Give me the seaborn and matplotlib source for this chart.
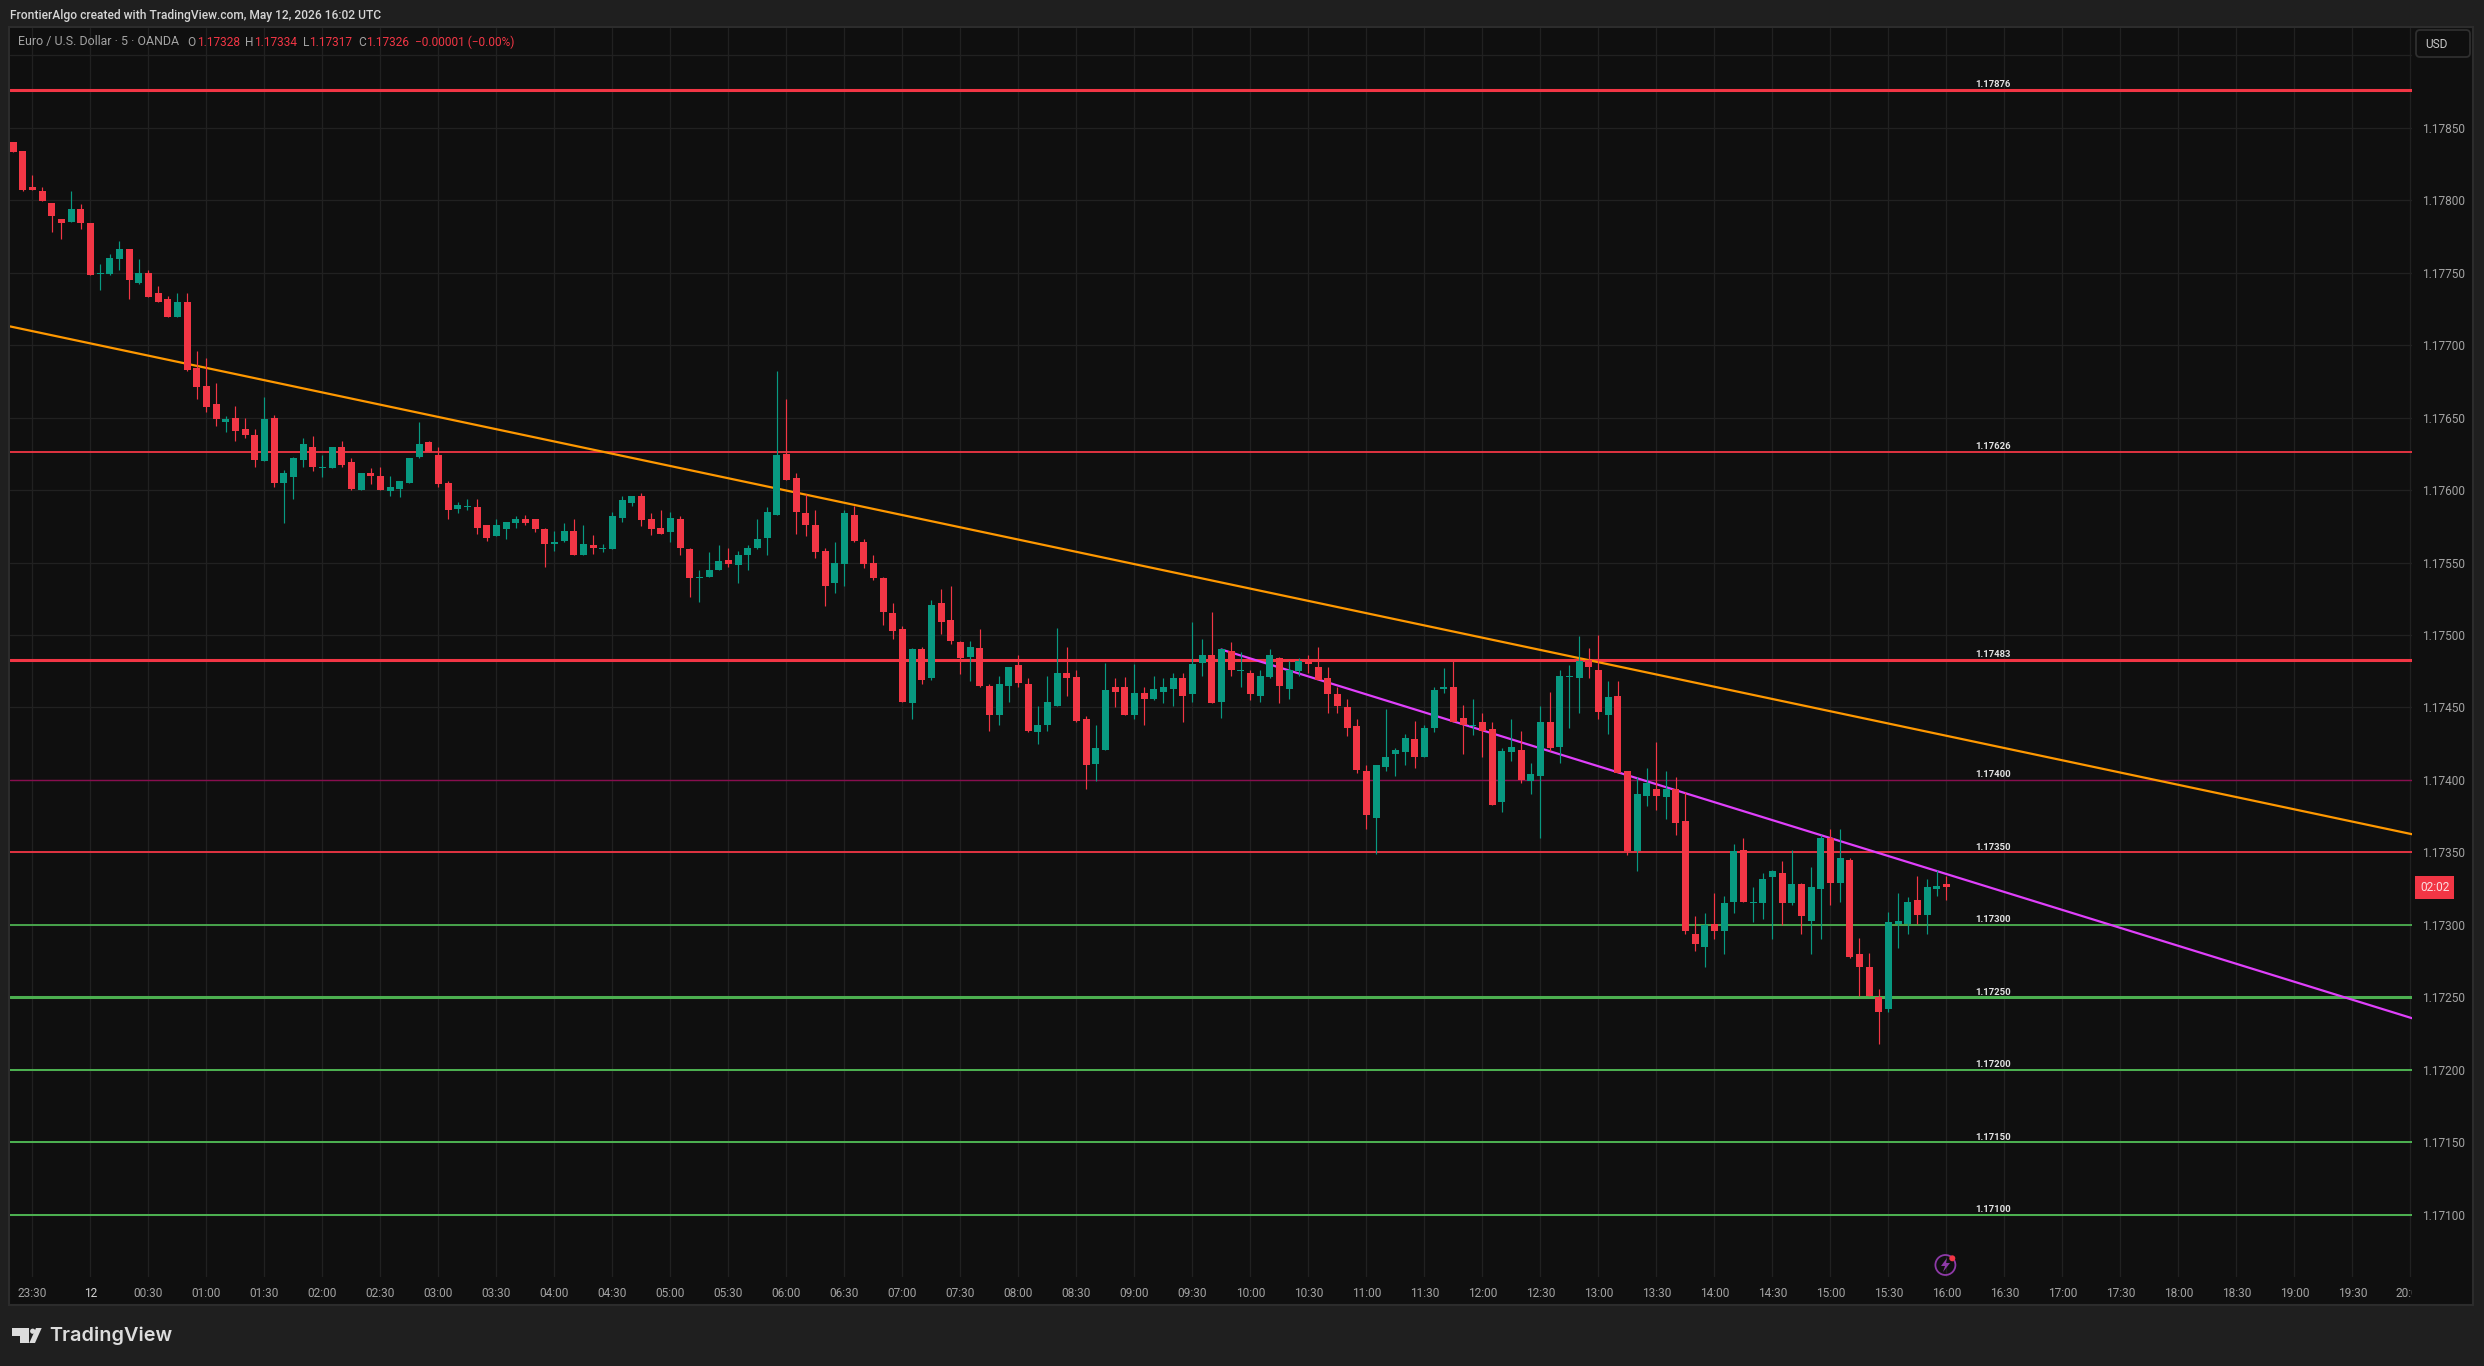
import numpy as np
import pandas as pd
import matplotlib
matplotlib.use("Agg")
import matplotlib.pyplot as plt
import seaborn as sns
from matplotlib.patches import Circle, FancyBboxPatch, Rectangle
from matplotlib.transforms import Bbox, TransformedBbox, blended_transform_factory

# EUR/USD 5 min candles, prices in 1e-5 units
opens = [
    117840, 117834, 117809, 117806, 117798, 117787, 117785, 117794, 117784, 117749, 117749, 117759, 117766, 117743, 117750, 117736, 117732, 117719, 117730, 117684,
    117672, 117659, 117647, 117650, 117642, 117638, 117620, 117650, 117605, 117609, 117621, 117630, 117615, 117615, 117630, 117619, 117600, 117612, 117610, 117599,
    117601, 117605, 117623, 117633, 117624, 117605, 117587, 117588, 117588, 117576, 117568, 117573, 117577, 117580, 117580, 117573, 117563, 117565, 117572, 117555,
    117562, 117559, 117559, 117581, 117591, 117596, 117580, 117574, 117571, 117580, 117559, 117539, 117540, 117545, 117552, 117548, 117555, 117560, 117567, 117583,
    117625, 117608, 117584, 117576, 117558, 117536, 117549, 117583, 117564, 117550, 117539, 117515, 117504, 117453, 117490, 117470, 117522, 117510, 117495, 117485,
    117491, 117465, 117445, 117465, 117479, 117466, 117433, 117438, 117451, 117474, 117471, 117442, 117411, 117421, 117464, 117464, 117445, 117460, 117456, 117461,
    117463, 117470, 117459, 117481, 117486, 117454, 117489, 117475, 117474, 117458, 117471, 117484, 117463, 117475, 117482, 117478, 117470, 117459, 117450, 117437,
    117406, 117374, 117409, 117418, 117419, 117428, 117416, 117436, 117463, 117464, 117443, 117437, 117440, 117435, 117385, 117419, 117421, 117399, 117403, 117440,
    117423, 117471, 117470, 117483, 117476, 117445, 117458, 117406, 117351, 117389, 117394, 117388, 117394, 117372, 117294, 117285, 117301, 117296, 117316, 117352,
    117315, 117315, 117333, 117336, 117315, 117328, 117303, 117325, 117360, 117329, 117345, 117280, 117271, 117250, 117242, 117301, 117301, 117317, 117307, 117325,
    117328,
]
highs = [
    117840, 117834, 117817, 117809, 117798, 117787, 117806, 117797, 117784, 117756, 117763, 117772, 117766, 117759, 117752, 117741, 117734, 117736, 117736, 117696,
    117691, 117674, 117651, 117658, 117650, 117642, 117664, 117652, 117614, 117623, 117636, 117637, 117624, 117630, 117634, 117622, 117612, 117615, 117616, 117610,
    117606, 117622, 117647, 117634, 117630, 117606, 117592, 117594, 117594, 117576, 117580, 117578, 117582, 117583, 117580, 117574, 117572, 117577, 117580, 117576,
    117569, 117563, 117585, 117596, 117596, 117598, 117584, 117586, 117585, 117582, 117560, 117545, 117557, 117562, 117560, 117558, 117562, 117580, 117588, 117682,
    117663, 117612, 117597, 117586, 117560, 117564, 117586, 117589, 117566, 117555, 117540, 117522, 117506, 117491, 117492, 117524, 117532, 117534, 117496, 117496,
    117504, 117466, 117472, 117478, 117486, 117470, 117451, 117472, 117505, 117492, 117476, 117444, 117438, 117481, 117470, 117471, 117480, 117464, 117472, 117470,
    117474, 117474, 117509, 117497, 117516, 117490, 117495, 117488, 117476, 117476, 117490, 117485, 117482, 117484, 117486, 117492, 117478, 117464, 117456, 117442,
    117410, 117410, 117449, 117422, 117432, 117441, 117438, 117464, 117477, 117482, 117452, 117456, 117446, 117440, 117422, 117442, 117434, 117412, 117451, 117461,
    117476, 117479, 117499, 117491, 117500, 117468, 117468, 117406, 117402, 117408, 117426, 117406, 117402, 117392, 117306, 117308, 117322, 117320, 117356, 117360,
    117326, 117336, 117338, 117344, 117352, 117329, 117340, 117362, 117366, 117366, 117346, 117291, 117281, 117256, 117309, 117322, 117319, 117334, 117332, 117338,
    117334,
]
lows = [
    117833, 117806, 117807, 117799, 117778, 117773, 117785, 117780, 117748, 117738, 117748, 117752, 117732, 117742, 117733, 117730, 117719, 117719, 117682, 117663,
    117654, 117644, 117640, 117634, 117636, 117616, 117620, 117602, 117577, 117594, 117616, 117613, 117609, 117615, 117616, 117600, 117600, 117604, 117600, 117596,
    117595, 117605, 117622, 117626, 117602, 117580, 117584, 117586, 117570, 117565, 117568, 117566, 117574, 117576, 117571, 117547, 117558, 117564, 117555, 117555,
    117556, 117557, 117559, 117578, 117589, 117575, 117569, 117570, 117564, 117555, 117526, 117523, 117540, 117545, 117547, 117536, 117545, 117559, 117555, 117583,
    117607, 117570, 117568, 117553, 117520, 117529, 117534, 117564, 117546, 117538, 117507, 117497, 117454, 117442, 117466, 117469, 117501, 117494, 117473, 117468,
    117464, 117434, 117438, 117454, 117464, 117433, 117425, 117434, 117451, 117458, 117440, 117394, 117399, 117421, 117450, 117445, 117442, 117438, 117455, 117453,
    117451, 117440, 117454, 117472, 117453, 117443, 117472, 117464, 117455, 117454, 117470, 117453, 117456, 117472, 117474, 117469, 117446, 117446, 117430, 117405,
    117366, 117349, 117406, 117403, 117410, 117408, 117416, 117433, 117460, 117440, 117418, 117431, 117416, 117383, 117378, 117413, 117398, 117390, 117360, 117420,
    117412, 117436, 117446, 117470, 117442, 117432, 117405, 117348, 117337, 117382, 117379, 117373, 117362, 117294, 117282, 117271, 117290, 117280, 117308, 117316,
    117302, 117304, 117290, 117300, 117314, 117294, 117280, 117290, 117314, 117316, 117277, 117251, 117251, 117218, 117240, 117284, 117294, 117301, 117294, 117320,
    117317,
]
closes = [
    117833, 117807, 117807, 117799, 117789, 117784, 117794, 117784, 117748, 117750, 117760, 117766, 117745, 117750, 117733, 117730, 117719, 117730, 117683, 117671,
    117657, 117649, 117649, 117641, 117638, 117621, 117649, 117605, 117612, 117622, 117632, 117616, 117616, 117630, 117617, 117601, 117612, 117610, 117600, 117602,
    117606, 117622, 117632, 117626, 117604, 117586, 117590, 117589, 117574, 117567, 117576, 117578, 117580, 117577, 117573, 117563, 117564, 117572, 117555, 117563,
    117560, 117560, 117582, 117593, 117596, 117579, 117573, 117570, 117581, 117560, 117539, 117540, 117545, 117551, 117549, 117555, 117560, 117566, 117585, 117624,
    117607, 117585, 117576, 117557, 117534, 117550, 117584, 117565, 117549, 117539, 117516, 117503, 117454, 117490, 117469, 117521, 117509, 117496, 117484, 117492,
    117465, 117445, 117466, 117478, 117467, 117434, 117438, 117454, 117474, 117470, 117441, 117410, 117422, 117462, 117461, 117445, 117460, 117456, 117463, 117464,
    117470, 117458, 117480, 117486, 117453, 117490, 117476, 117476, 117459, 117472, 117486, 117465, 117476, 117482, 117480, 117469, 117459, 117451, 117436, 117407,
    117376, 117410, 117416, 117421, 117429, 117416, 117436, 117462, 117464, 117440, 117438, 117438, 117434, 117383, 117420, 117423, 117400, 117404, 117440, 117422,
    117472, 117472, 117482, 117478, 117447, 117457, 117405, 117351, 117390, 117398, 117389, 117394, 117370, 117296, 117287, 117300, 117296, 117315, 117351, 117316,
    117316, 117332, 117337, 117315, 117328, 117306, 117326, 117360, 117329, 117346, 117278, 117271, 117251, 117240, 117302, 117303, 117316, 117307, 117326, 117327,
    117326,
]

time_labels = ["23:30", "12", "00:30", "01:00", "01:30", "02:00", "02:30", "03:00", "03:30", "04:00", "04:30",
               "05:00", "05:30", "06:00", "06:30", "07:00", "07:30", "08:00", "08:30", "09:00", "09:30", "10:00",
               "10:30", "11:00", "11:30", "12:00", "12:30", "13:00", "13:30", "14:00", "14:30", "15:00", "15:30",
               "16:00", "16:30", "17:00", "17:30", "18:00", "18:30", "19:00", "19:30", "20:00"]
price_ticks = [1.171, 1.1715, 1.172, 1.1725, 1.173, 1.1735, 1.174, 1.1745, 1.175, 1.1755, 1.176, 1.1765,
               1.177, 1.1775, 1.178, 1.1785, 1.179]

level_prices = [1.17876, 1.17626, 1.17483, 1.17400, 1.17350, 1.17300, 1.17250, 1.17200, 1.17150, 1.17100]
level_colors = ["#f23645", "#f23645", "#f23645", "#880e4f", "#f23645",
                "#4caf50", "#4caf50", "#4caf50", "#4caf50", "#4caf50"]
level_widths = [2.2, 1.3, 2.2, 1.0, 1.3, 1.3, 2.2, 1.45, 1.45, 1.45]

# trend lines, bar index / price
orange_x = [-0.28, 248.17]
orange_y = [1.177128, 1.173626]
magenta_x = [125, 248.17]
magenta_y = [1.17490, 1.172357]

W, H = 2484, 1366
RED = "#f23645"
GREEN = "#089981"
GREY = "#a3a3a3"
BAR_COL = "#1f1f1f"
PANE = "#0f0f0f"

sns.set_theme(style="dark", rc={"axes.grid": True, "grid.color": "#212121", "grid.linewidth": 0.9,
                                "axes.linewidth": 0, "figure.facecolor": BAR_COL, "axes.facecolor": PANE})
plt.rcParams["font.family"] = ["Roboto", "DejaVu Sans"]

df = pd.DataFrame({"bar": np.arange(len(opens)), "open": np.array(opens) / 1e5, "high": np.array(highs) / 1e5,
                   "low": np.array(lows) / 1e5, "close": np.array(closes) / 1e5})
df["up"] = df["close"] >= df["open"]
df["base"] = df[["open", "close"]].min(axis=1)
df["body"] = (df["close"] - df["open"]).abs()

fig = plt.figure(figsize=(W / 100, H / 100), dpi=100)
fig.add_artist(Rectangle((9 / W, 1 - 1305 / H), 2464 / W, 1278 / H, transform=fig.transFigure,
                         fc=PANE, ec="#2c2c2c", lw=1.5, zorder=-1))
ax = fig.add_axes([10.3 / W, 1 - 1277 / H, (2412 - 10.3) / W, (1277 - 27.5) / H])

# horizontal levels and trend lines sit under the candles
for price, col, lw in zip(level_prices, level_colors, level_widths):
    ax.axhline(price, color=col, lw=lw, zorder=2)
    ax.annotate(f"{price:.5f}", xy=(203.0, price), xytext=(0, 3.9), textcoords="offset points",
                ha="left", va="center", fontsize=6.8, fontweight="bold", color="#e2e2e2", zorder=6)
sns.lineplot(x=orange_x, y=orange_y, color="#ff9800", linewidth=1.6, ax=ax, legend=False, errorbar=None, zorder=2)
sns.lineplot(x=magenta_x, y=magenta_y, color="#e040fb", linewidth=1.6, ax=ax, legend=False, errorbar=None, zorder=2)

for is_up, col in [(True, GREEN), (False, RED)]:
    part = df[df["up"] == is_up]
    ax.vlines(part["bar"], part["low"], part["high"], color=col, lw=0.85, zorder=3)
    sns.barplot(x=part["bar"].values, y=part["body"].values, bottom=part["base"].values, native_scale=True,
                color=col, saturation=1, width=0.724, errorbar=None, linewidth=0, legend=False, ax=ax, zorder=4)

ax.set_xlim(-0.28, 248.17)
ax.set_ylim(1.170572, 1.179190)
ax.set_xlabel("")
ax.set_ylabel("")
ax.set_axisbelow(True)
for side in ax.spines:
    ax.spines[side].set_visible(False)

# time axis, one label every 6 bars
ax.set_xticks([2 + 6 * n for n in range(len(time_labels))])
ax.set_xticklabels(time_labels)
ax.tick_params(axis="x", length=0, pad=7.2, labelsize=8.6, labelcolor=GREY)
clip = TransformedBbox(Bbox([[0, -1], [1, 1]]), ax.transAxes)
for lab in ax.get_xticklabels():
    lab.set_clip_box(clip)
    lab.set_clip_on(True)
    if lab.get_text() == "12":
        lab.set_color("#d4d4d4")

# price axis
ax.yaxis.tick_right()
ax.set_yticks(price_ticks)
ax.set_yticklabels([f"{p:.5f}" if p < 1.1789 else "" for p in price_ticks])
ax.tick_params(axis="y", length=0, pad=7, labelsize=8.6, labelcolor=GREY)

# countdown tag follows the last close
tag_trans = blended_transform_factory(ax.transAxes, ax.transData)
ax.text(1.0094, df["close"].iloc[-1], "02:02", transform=tag_trans, ha="center", va="center", fontsize=8.6,
        color="#fbdde0", clip_on=False, zorder=7,
        bbox=dict(boxstyle="square,pad=0.42", fc=RED, ec="none"))

# window chrome in pixel coordinates
ov = fig.add_axes([0, 0, 1, 1], zorder=5)
ov.set_xlim(0, W)
ov.set_ylim(H, 0)
ov.axis("off")

ov.text(10, 15, "FrontierAlgo created with TradingView.com, May 12, 2026 16:02 UTC", fontsize=8.65,
        color="#d6d6d6", va="center", fontweight="medium")
ov.text(18, 42, "Euro / U.S. Dollar · 5 · OANDA", fontsize=8.95, color=GREY, va="center")
legend_parts = [(187.5, "O", GREY), (197, "1.17328", RED), (245, "H", GREY), (253.6, "1.17334", RED),
                (302.7, "L", GREY), (309.4, "1.17317", RED), (358, "C", GREY), (366, "1.17326", RED),
                (414.7, "−0.00001 (−0.00%)", RED)]
for x, txt, col in legend_parts:
    ov.text(x, 42, txt, fontsize=8.6, color=col, va="center")

ov.add_patch(FancyBboxPatch((2416, 30), 54, 27, boxstyle="round,pad=0,rounding_size=4", fc="none", ec="#2f2f2f", lw=1.3,
                            mutation_aspect=1))
ov.text(2425, 44, "USD", fontsize=8.6, color="#c8c8c8", va="center")

# bolt badge at the bottom of the chart
ov.add_patch(Circle((1945.4, 1265), 10, fc="none", ec="#8e3aa8", lw=1.3))
ov.fill([1947, 1941, 1945, 1943, 1950, 1946], [1258, 1266, 1266, 1272, 1263, 1263], color="#8e3aa8", lw=0)
ov.add_patch(Circle((1952.3, 1258.3), 3, fc=RED, ec="none"))

# TradingView logo
LOGO = "#dcdcdc"
ov.fill([12, 29, 29, 20, 20, 12], [1328, 1328, 1343, 1343, 1336, 1336], color=LOGO, lw=0)
ov.add_patch(Circle((32.7, 1331.2), 2.6, fc=LOGO, ec="none"))
ov.fill([36, 41.7, 35, 29.3], [1328, 1328, 1343, 1343], color=LOGO, lw=0)
ov.text(49, 1336, "TradingView", fontsize=14.3, color=LOGO, va="center", family=["Inter", "DejaVu Sans"],
        fontweight="semibold")

fig.savefig("out.png", dpi=100, facecolor=BAR_COL)
